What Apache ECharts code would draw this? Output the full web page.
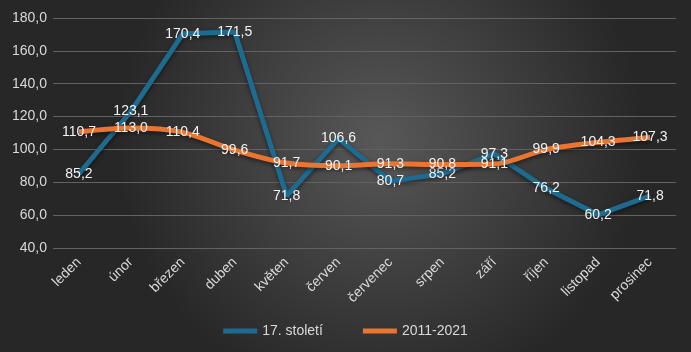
<!DOCTYPE html>
<html>
<head>
<meta charset="utf-8">
<script src="https://cdn.jsdelivr.net/npm/echarts@6/dist/echarts.min.js"></script>
<style>
  html, body { margin: 0; padding: 0; }
  #chart { width: 691px; height: 352px; }
</style>
</head>
<body>
<div id="chart"></div>
<script>
const months = ['leden', 'únor', 'březen', 'duben', 'květen', 'červen', 'červenec', 'srpen', 'září', 'říjen', 'listopad', 'prosinec'];
const stoleti17 = [85.2, 123.1, 170.4, 171.5, 71.8, 106.6, 80.7, 85.2, 97.3, 76.2, 60.2, 71.8];
const recent = [110.7, 113.0, 110.4, 99.6, 91.7, 90.1, 91.3, 90.8, 91.1, 99.9, 104.3, 107.3];

const fmt = v => v.toFixed(1).replace('.', ',');

const myChart = echarts.init(document.getElementById('chart'));

const labelStyle = {
  show: true,
  position: 'inside',
  color: '#f2f2f2',
  fontSize: 14,
  fontFamily: 'Liberation Sans',
  formatter: p => fmt(p.value)
};

const option = {
  backgroundColor: {
    type: 'radial', x: 0.55, y: 0.4, r: 0.75,
    colorStops: [
      { offset: 0, color: '#585858' },
      { offset: 1, color: '#272727' }
    ]
  },
  textStyle: { fontFamily: 'Liberation Sans' },
  grid: { left: 53, right: 15, top: 18, bottom: 104 },
  legend: {
    bottom: 9,
    itemWidth: 34,
    itemHeight: 5,
    itemGap: 40,
    icon: 'rect',
    textStyle: { color: '#d9d9d9', fontSize: 14 },
    data: ['17. století', '2011-2021']
  },
  xAxis: {
    type: 'category',
    data: months,
    axisLine: { show: false },
    axisTick: { show: false },
    axisLabel: { color: '#d9d9d9', fontSize: 14, rotate: 45, margin: 12 }
  },
  yAxis: {
    type: 'value',
    min: 40,
    max: 180,
    interval: 20,
    axisLabel: { color: '#d9d9d9', fontSize: 14, margin: 6, formatter: v => fmt(v) },
    splitLine: { lineStyle: { color: '#626262', width: 1 } }
  },
  series: [
    {
      name: '17. století',
      type: 'line',
      data: stoleti17,
      symbol: 'circle',
      symbolSize: 0.1,
      itemStyle: { color: '#1f6a8f' },
      color: '#1f6a8f',
      lineStyle: { width: 5, color: '#1f6a8f', shadowColor: 'rgba(0,0,0,0.5)', shadowBlur: 4, shadowOffsetY: 2 },
      label: labelStyle,
      z: 2
    },
    {
      name: '2011-2021',
      type: 'line',
      data: recent,
      smooth: 0.3,
      symbol: 'circle',
      symbolSize: 0.1,
      itemStyle: { color: '#ea7530' },
      color: '#ea7530',
      lineStyle: { width: 5, color: '#ea7530', shadowColor: 'rgba(0,0,0,0.5)', shadowBlur: 4, shadowOffsetY: 2 },
      label: labelStyle,
      z: 3
    }
  ]
};

myChart.setOption(option);
</script>
</body>
</html>
